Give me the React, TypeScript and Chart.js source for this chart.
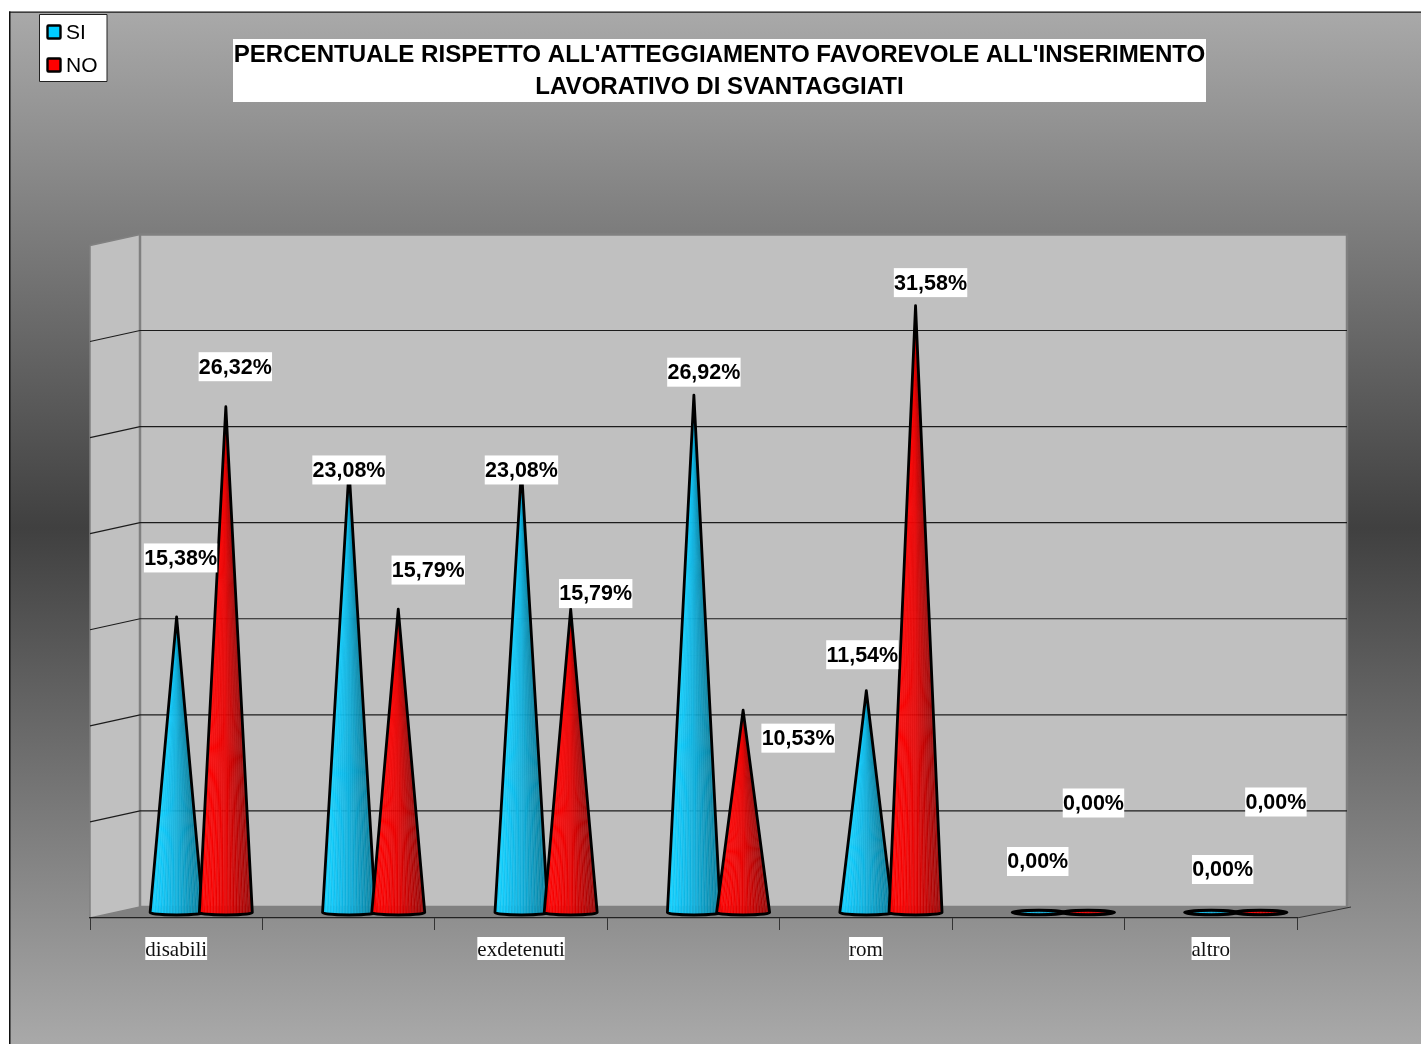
import React, { useEffect, useRef } from "react";
import { Chart, registerables } from "chart.js";

Chart.register(...registerables);

const categories = ["disabili", "", "exdetenuti", "", "rom", "", "altro"];
const siValues = [15.38, 23.08, 23.08, 26.92, 11.54, 0, 0];
const noValues = [26.32, 15.79, 15.79, 10.53, 31.58, 0, 0];
const titleLines = [
  "PERCENTUALE RISPETTO ALL'ATTEGGIAMENTO FAVOREVOLE ALL'INSERIMENTO",
  "LAVORATIVO DI SVANTAGGIATI",
];

// Hand-placed label offsets relative to each cone's tip, as in the reference.
const siLabelOffsets = [[4, -59], [0, 1], [0, 1], [10, -23], [-4, -36], [-1, -51], [11.5, -43]];
const noLabelOffsets = [[9.5, -40], [30, -39], [25, -15.5], [55, 28], [15, -23], [5.5, -109.5], [15.5, -110.5]];

const SANS = '"Liberation Sans", Arial, sans-serif';
const SERIF = '"Liberation Serif", "Times New Roman", serif';
const DEPTH_X = 50;
const DEPTH_Y = 11;
const CONE_HALF = 26.5;
const BASE_RY = 2.5;

const palettes = [
  { left: [16, 206, 255], mid: [14, 172, 216], right: [8, 125, 155], swatch: "#00ccff" },
  { left: [255, 0, 0], mid: [225, 0, 0], right: [150, 8, 8], swatch: "#ff0000" },
];

function shade(p: any, u: number, alt: boolean) {
  const [a, b, t] = u < 0.5 ? [p.left, p.mid, u * 2] : [p.mid, p.right, (u - 0.5) * 2];
  const c = a.map((v: number, i: number) => Math.round(v + (b[i] - v) * t + (alt ? 14 : 0)));
  return `rgb(${Math.min(c[0], 255)},${Math.min(c[1], 255)},${Math.min(c[2], 255)})`;
}

function drawCone(ctx: CanvasRenderingContext2D, cx: number, tip: number, by: number, p: any) {
  const flat = by - tip < 4;
  const outline = () => {
    ctx.beginPath();
    if (flat) {
      ctx.ellipse(cx, by, CONE_HALF, 2.2, 0, 0, Math.PI * 2);
    } else {
      ctx.moveTo(cx - CONE_HALF, by);
      ctx.lineTo(cx, tip);
      ctx.lineTo(cx + CONE_HALF, by);
      ctx.ellipse(cx, by, CONE_HALF, BASE_RY, 0, 0, Math.PI);
    }
    ctx.closePath();
  };
  ctx.save();
  outline();
  ctx.clip();
  const n = 36;
  for (let i = 0; i < n; i++) {
    const x0 = cx - CONE_HALF + (2 * CONE_HALF * i) / n;
    const x1 = cx - CONE_HALF + (2 * CONE_HALF * (i + 1)) / n;
    const col = shade(p, (i + 0.5) / n, i % 2 === 0);
    ctx.fillStyle = col;
    ctx.strokeStyle = col;
    ctx.lineWidth = 0.4;
    ctx.beginPath();
    if (flat) {
      ctx.rect(x0, by - 4, x1 - x0, 8);
    } else {
      ctx.moveTo(cx, tip);
      ctx.lineTo(x0, by + BASE_RY + 1);
      ctx.lineTo(x1, by + BASE_RY + 1);
      ctx.closePath();
    }
    ctx.fill();
    ctx.stroke();
  }
  ctx.restore();
  outline();
  ctx.strokeStyle = "#000";
  ctx.lineWidth = flat ? 3 : 2.8;
  ctx.lineJoin = "round";
  ctx.stroke();
}

const scenePlugin = {
  id: "scene",
  beforeDraw(chart: any) {
    const { ctx, width, height, scales } = chart;
    const { left, right, top, bottom } = chart.chartArea;
    const y = scales.y;
    ctx.save();
    ctx.fillStyle = "#fff";
    ctx.fillRect(0, 0, width, height);
    const g = ctx.createLinearGradient(0, 12, 0, 1044);
    g.addColorStop(0, "#a9a9a9");
    g.addColorStop(0.5, "#404040");
    g.addColorStop(1, "#a9a9a9");
    ctx.fillStyle = g;
    ctx.fillRect(10, 12, width - 10, height - 12);
    ctx.fillStyle = "#111";
    ctx.fillRect(9, 11.5, 1.5, height);
    ctx.fillRect(9, 11.5, width, 1.2);

    const bx = left + DEPTH_X;
    const rx = right + DEPTH_X;
    const by = bottom - DEPTH_Y;
    const ty = top - DEPTH_Y;
    // floor
    ctx.fillStyle = "#808080";
    ctx.beginPath();
    ctx.moveTo(left, bottom);
    ctx.lineTo(bx, by);
    ctx.lineTo(rx, by);
    ctx.lineTo(right, bottom);
    ctx.closePath();
    ctx.fill();
    // side wall
    ctx.fillStyle = "#c0c0c0";
    ctx.strokeStyle = "#808080";
    ctx.lineWidth = 1.5;
    ctx.beginPath();
    ctx.moveTo(left, bottom);
    ctx.lineTo(left, top);
    ctx.lineTo(bx, ty);
    ctx.lineTo(bx, by);
    ctx.closePath();
    ctx.fill();
    ctx.stroke();
    // back wall
    ctx.lineWidth = 2.5;
    ctx.beginPath();
    ctx.rect(bx, ty, rx - bx, by - ty);
    ctx.fill();
    ctx.stroke();
    // gridlines on the walls
    ctx.strokeStyle = "#1c1c1c";
    ctx.lineWidth = 1.2;
    y.ticks.forEach((t: any) => {
      if (t.value <= 0 || t.value >= y.max) return;
      const py = y.getPixelForValue(t.value);
      ctx.beginPath();
      ctx.moveTo(left, py);
      ctx.lineTo(bx, py - DEPTH_Y);
      ctx.lineTo(rx, py - DEPTH_Y);
      ctx.stroke();
    });
    // right end of the floor edge
    ctx.strokeStyle = "#333";
    ctx.lineWidth = 1;
    ctx.beginPath();
    ctx.moveTo(right, bottom);
    ctx.lineTo(rx + 4, by);
    ctx.stroke();
    ctx.restore();
  },
  afterDatasetsDraw(chart: any) {
    const { ctx } = chart;
    const offs = [siLabelOffsets, noLabelOffsets];
    const tipOf = (el: any) => ({ cx: el.x + DEPTH_X / 2, tip: el.y - DEPTH_Y / 2, by: el.base - DEPTH_Y / 2 });
    ctx.save();
    const metas = [chart.getDatasetMeta(0), chart.getDatasetMeta(1)];
    categories.forEach((_c, i) => {
      metas.forEach((m, d) => {
        const { cx, tip, by } = tipOf(m.data[i]);
        drawCone(ctx, cx, tip, by, palettes[d]);
      });
    });
    // value labels
    ctx.font = `bold 21.5px ${SANS}`;
    ctx.textAlign = "center";
    ctx.textBaseline = "middle";
    metas.forEach((m, d) => {
      m.data.forEach((el: any, i: number) => {
        const { cx, tip } = tipOf(el);
        const v = chart.data.datasets[d].data[i] as number;
        const txt = v.toFixed(2).replace(".", ",") + "%";
        const lx = cx + offs[d][i][0];
        const ly = tip + offs[d][i][1];
        const w = ctx.measureText(txt).width + 0.5;
        ctx.fillStyle = "#fff";
        ctx.fillRect(lx - w / 2, ly - 14.5, w, 29);
        ctx.fillStyle = "#000";
        ctx.fillText(txt, lx, ly + 1);
      });
    });
    // title
    ctx.fillStyle = "#fff";
    ctx.fillRect(233, 39, 973, 63);
    ctx.fillStyle = "#000";
    ctx.font = `bold 24.1px ${SANS}`;
    titleLines.forEach((line, i) => ctx.fillText(line, 719.5, 55 + i * 32));
    // legend
    ctx.fillStyle = "#fff";
    ctx.strokeStyle = "#222";
    ctx.lineWidth = 1;
    ctx.fillRect(39.5, 14.5, 67.5, 67);
    ctx.strokeRect(39.5, 14.5, 67.5, 67);
    ctx.textAlign = "left";
    ctx.font = `21px ${SANS}`;
    chart.data.datasets.forEach((ds: any, d: number) => {
      const sy = 32 + d * 33;
      ctx.fillStyle = palettes[d].swatch;
      ctx.strokeStyle = "#000";
      ctx.lineWidth = 2.4;
      ctx.beginPath();
      ctx.roundRect(47.5, sy - 6.5, 13, 13, 1);
      ctx.fill();
      ctx.stroke();
      ctx.fillStyle = "#000";
      ctx.fillText(ds.label, 66, sy + 1);
    });
    ctx.restore();
  },
};

export default function App() {
  const ref = useRef<HTMLCanvasElement>(null);
  useEffect(() => {
    const chart = new Chart(ref.current as HTMLCanvasElement, {
      type: "bar",
      data: {
        labels: categories,
        datasets: [
          { label: "SI", data: siValues, backgroundColor: "transparent", borderWidth: 0 },
          { label: "NO", data: noValues, backgroundColor: "transparent", borderWidth: 0 },
        ],
      },
      options: {
        responsive: false,
        animation: false,
        events: [],
        layout: { padding: { left: 90, right: 124, top: 245.4, bottom: 84 } },
        datasets: { bar: { categoryPercentage: 0.571, barPercentage: 1 } },
        plugins: { legend: { display: false }, title: { display: false }, tooltip: { enabled: false } },
        scales: {
          x: {
            offset: true,
            afterFit: (s: any) => { s.height = 42; },
            border: { color: "#222", width: 1.2 },
            grid: { drawOnChartArea: false, drawTicks: true, tickLength: 12, color: "#333", offset: true },
            ticks: {
              autoSkip: false,
              maxRotation: 0,
              color: "#111",
              padding: 8,
              font: { family: SERIF, size: 21 },
              showLabelBackdrop: true,
              backdropColor: "#fff",
              backdropPadding: { left: 0, right: 0, top: 1, bottom: 1 },
            },
          },
          y: { display: false, min: 0, max: 35, ticks: { stepSize: 5 } },
        },
      },
      plugins: [scenePlugin],
    } as any);
    return () => chart.destroy();
  }, []);
  return (
    <div style={{ position: "absolute", left: 0, top: 0, width: 1421, height: 1044, overflow: "hidden" }}>
      <canvas ref={ref} width={1421} height={1044} style={{ display: "block" }} />
    </div>
  );
}
